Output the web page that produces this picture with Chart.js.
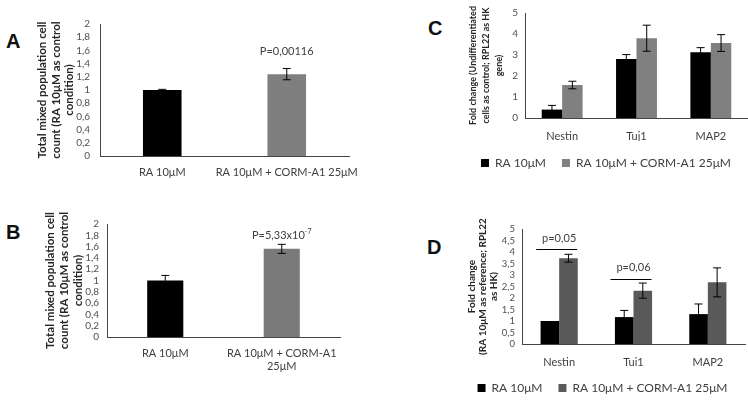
<!DOCTYPE html>
<html>
<head>
<meta charset="utf-8">
<script src="https://cdn.jsdelivr.net/npm/chart.js@4.4.1/dist/chart.umd.min.js"></script>
<style>
  html, body { margin: 0; padding: 0; background: #fff; overflow: hidden; }
  body { width: 748px; height: 401px; position: relative; }
  canvas { position: absolute; }
  .lettre { position: absolute; font-family: "Liberation Sans", Arial, sans-serif; font-weight: bold; font-size: 20px; color: #111; }
</style>
</head>
<body>
<div class="lettre" style="left:6px;top:30px">A</div>
<div class="lettre" style="left:6px;top:221px">B</div>
<div class="lettre" style="left:428px;top:17px">C</div>
<div class="lettre" style="left:427px;top:236px">D</div>
<canvas id="chartA" width="380" height="200" style="left:0;top:0"></canvas>
<canvas id="chartB" width="380" height="200" style="left:0;top:200px"></canvas>
<canvas id="chartC" width="328" height="179" style="left:420px;top:0"></canvas>
<canvas id="chartD" width="328" height="204" style="left:420px;top:200px"></canvas>
<script>
// donnees
const categoriesA = ['RA 10μM', 'RA 10μM + CORM-A1 25μM'];
const valeursA = [1.0, 1.24];
const erreursA = [0.01, 0.085];
const pTexteA = 'P=0,00116';
const pNiveauA = 1.58;

const categoriesB = ['RA 10μM', ['RA 10μM + CORM-A1', '25μM']];
const valeursB = [1.0, 1.56];
const erreursB = [0.09, 0.08];
const pTexteB = 'P=5,33x10';
const pExposantB = '-7';
const pNiveauB = 1.79;

const genes = ['Nestin', 'Tuj1', 'MAP2'];
const nomsSeries = ['RA 10μM', 'RA 10μM + CORM-A1 25μM'];

const raC = [0.40, 2.81, 3.13];
const raErrC = [0.2, 0.21, 0.22];
const cormC = [1.57, 3.80, 3.57];
const cormErrC = [0.18, 0.62, 0.40];

const raD = [1.0, 1.17, 1.30];
const raErrD = [0, 0.29, 0.44];
const cormD = [3.73, 2.32, 2.68];
const cormErrD = [0.17, 0.33, 0.63];
const pTextesD = ['p=0,05', 'p=0,06'];
const pGenesD = [0, 1];
const pNiveauxD = [4.12, 2.83];

const titreA = ['Total mixed population cell', 'count (RA 10μM as control', 'condition)'];
const titreC = ['Fold change (Undifferentiated', 'cells as control; RPL22 as HK', 'gene)'];
const titreD = ['Fold change', '(RA 10μM as reference; RPL22', 'as HK)'];

const POLICE = 'Lato, "Open Sans", sans-serif';
const GRIS_TEXTE = '#404040';
const GRIS_AXE = '#454545';

// barres d'erreur dessinees a partir de l'echelle y
const barresErreur = {
  id: 'barresErreur',
  afterDatasetsDraw(chart) {
    const ctx = chart.ctx;
    const y = chart.scales.y;
    chart.data.datasets.forEach((ds, i) => {
      if (!ds.erreurs) return;
      const meta = chart.getDatasetMeta(i);
      meta.data.forEach((barre, j) => {
        const e = ds.erreurs[j];
        if (!e) return;
        const haut = y.getPixelForValue(ds.data[j] + e);
        const bas = y.getPixelForValue(ds.data[j] - e);
        ctx.save();
        ctx.strokeStyle = '#000';
        ctx.lineWidth = 1;
        ctx.beginPath();
        ctx.moveTo(barre.x, haut); ctx.lineTo(barre.x, bas);
        ctx.moveTo(barre.x - 4, haut); ctx.lineTo(barre.x + 4, haut);
        ctx.moveTo(barre.x - 4, bas); ctx.lineTo(barre.x + 4, bas);
        ctx.stroke();
        ctx.restore();
      });
    });
  }
};

// textes de p-valeur (et traits de significativite)
const pValeurs = {
  id: 'pValeurs',
  afterDatasetsDraw(chart, args, opts) {
    if (!opts.items) return;
    const ctx = chart.ctx;
    const x = chart.scales.x, y = chart.scales.y;
    opts.items.forEach(it => {
      const cx = x.getPixelForValue(it.cat);
      const py = y.getPixelForValue(it.niveau);
      ctx.save();
      ctx.fillStyle = GRIS_TEXTE;
      ctx.textBaseline = 'middle';
      ctx.font = '11px ' + POLICE;
      if (it.trait) {
        ctx.strokeStyle = '#000';
        ctx.lineWidth = 1;
        ctx.beginPath();
        ctx.moveTo(cx - 23, Math.round(py) + 0.5);
        ctx.lineTo(cx + 18, Math.round(py) + 0.5);
        ctx.stroke();
        ctx.textAlign = 'center';
        ctx.fillText(it.texte, cx, py - 11);
      } else if (it.exposant) {
        const w1 = ctx.measureText(it.texte).width;
        ctx.font = '7px ' + POLICE;
        const w2 = ctx.measureText(it.exposant).width;
        const x0 = cx - (w1 + w2) / 2;
        ctx.textAlign = 'left';
        ctx.fillText(it.exposant, x0 + w1, py - 4);
        ctx.font = '11px ' + POLICE;
        ctx.fillText(it.texte, x0, py);
      } else {
        ctx.textAlign = 'center';
        ctx.fillText(it.texte, cx, py);
      }
      ctx.restore();
    });
  }
};

function virgule(v) { return String(v).replace('.', ','); }

function axeY(max, pas, largeur, titre, titreOpts, tailleTicks, ecart) {
  return {
    min: 0, max: max,
    afterFit: s => { s.width = largeur; },
    grid: { display: false, drawTicks: false },
    border: { display: true, color: GRIS_AXE, width: 1 },
    ticks: { stepSize: pas, autoSkip: false, padding: ecart, color: '#505050', font: { family: POLICE, size: tailleTicks }, callback: v => virgule(v) },
    title: Object.assign({ display: true, text: titre, color: '#262626' }, titreOpts)
  };
}

function axeX(hauteur, ecart) {
  return {
    afterFit: s => { s.height = hauteur; },
    grid: { display: false, drawTicks: false },
    border: { display: true, color: GRIS_AXE, width: 1 },
    ticks: { padding: ecart, color: GRIS_TEXTE, font: { family: POLICE, size: 11 }, autoSkip: false, maxRotation: 0 }
  };
}

Chart.defaults.font.family = POLICE;
Chart.defaults.animation = false;

new Chart(document.getElementById('chartA'), {
  type: 'bar',
  data: {
    labels: categoriesA,
    datasets: [{ data: valeursA, erreurs: erreursA, backgroundColor: ['#000000', '#7f7f7f'], barPercentage: 0.31, categoryPercentage: 1 }]
  },
  options: {
    responsive: false,
    layout: { padding: { left: 0, top: 24, right: 31, bottom: 0 } },
    plugins: { legend: { display: false }, tooltip: { enabled: false },
      pValeurs: { items: [{ cat: 1, niveau: pNiveauA, texte: pTexteA }] } },
    scales: {
      x: axeX(44, 10),
      y: axeY(2, 0.2, 100, titreA, { font: { family: POLICE, size: 11.5, weight: 'bold', lineHeight: '13.5px' }, padding: { top: 36 } }, 10, 10)
    }
  },
  plugins: [barresErreur, pValeurs]
});

new Chart(document.getElementById('chartB'), {
  type: 'bar',
  data: {
    labels: categoriesB,
    datasets: [{ data: valeursB, erreurs: erreursB, backgroundColor: ['#000000', '#7a7a7a'], barPercentage: 0.31, categoryPercentage: 1 }]
  },
  options: {
    responsive: false,
    layout: { padding: { left: 0, top: 24, right: 40, bottom: 0 } },
    plugins: { legend: { display: false }, tooltip: { enabled: false },
      pValeurs: { items: [{ cat: 1, niveau: pNiveauB, texte: pTexteB, exposant: pExposantB }] } },
    scales: {
      x: axeX(63, 10),
      y: axeY(2, 0.2, 107, titreA, { font: { family: POLICE, size: 11.5, weight: 'bold', lineHeight: '14px' }, padding: { top: 43 } }, 10, 8)
    }
  },
  plugins: [barresErreur, pValeurs]
});

function legendeBas() {
  return {
    display: true, position: 'bottom',
    labels: { boxWidth: 8, boxHeight: 8, padding: 16, color: GRIS_TEXTE, font: { family: POLICE, size: 12 } }
  };
}

new Chart(document.getElementById('chartC'), {
  type: 'bar',
  data: {
    labels: genes,
    datasets: [
      { label: nomsSeries[0], data: raC, erreurs: raErrC, backgroundColor: '#000000', borderWidth: 0, barPercentage: 1, categoryPercentage: 0.55 },
      { label: nomsSeries[1], data: cormC, erreurs: cormErrC, backgroundColor: '#808080', borderWidth: 0, barPercentage: 1, categoryPercentage: 0.55 }
    ]
  },
  options: {
    responsive: false,
    layout: { padding: { left: 44, top: 10, right: 0, bottom: 0 } },
    plugins: { legend: legendeBas(), tooltip: { enabled: false } },
    scales: {
      x: axeX(23, 12),
      y: axeY(5, 1, 61, titreC, { font: { family: POLICE, size: 9, weight: 'bold', lineHeight: '13px' }, padding: { top: 2.5 } }, 10, 7)
    }
  },
  plugins: [barresErreur]
});

new Chart(document.getElementById('chartD'), {
  type: 'bar',
  data: {
    labels: genes,
    datasets: [
      { label: nomsSeries[0], data: raD, erreurs: raErrD, backgroundColor: '#000000', borderWidth: 0, barPercentage: 1, categoryPercentage: 0.5 },
      { label: nomsSeries[1], data: cormD, erreurs: cormErrD, backgroundColor: '#595959', borderWidth: 0, barPercentage: 1, categoryPercentage: 0.5 }
    ]
  },
  options: {
    responsive: false,
    layout: { padding: { left: 40, top: 29, right: 3, bottom: 0 } },
    plugins: { legend: legendeBas(), tooltip: { enabled: false },
      pValeurs: { items: pTextesD.map((t, i) => ({ cat: pGenesD[i], niveau: pNiveauxD[i], texte: t, trait: true })) } },
    scales: {
      x: axeX(22, 12),
      y: axeY(5, 0.5, 62, titreD, { font: { family: POLICE, size: 10, weight: 'bold', lineHeight: '11px' }, padding: { top: 6.5 } }, 9.5, 7)
    }
  },
  plugins: [barresErreur, pValeurs]
});
</script>
</body>
</html>
